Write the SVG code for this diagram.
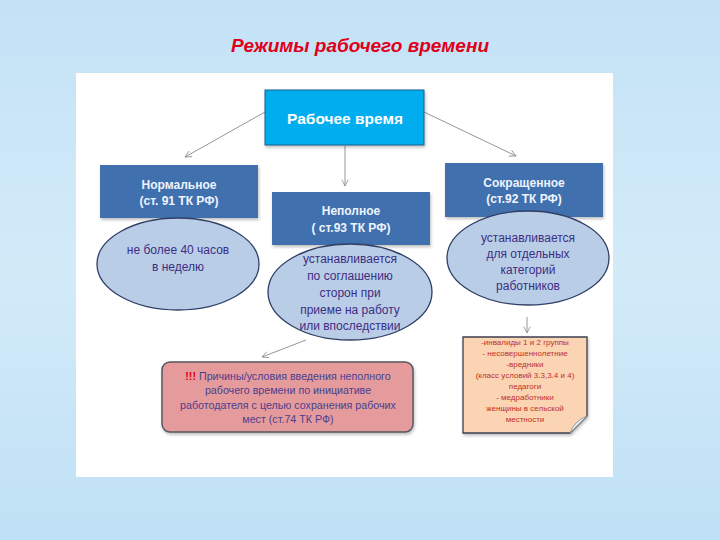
<svg xmlns="http://www.w3.org/2000/svg" width="720" height="540" viewBox="0 0 720 540">
<defs>
<linearGradient id="bg" x1="0" y1="0" x2="0" y2="1">
<stop offset="0" stop-color="#c3e2f6"/>
<stop offset="0.5" stop-color="#d3ebf9"/>
<stop offset="1" stop-color="#bfe0f5"/>
</linearGradient>
<marker id="arr" viewBox="0 0 10 10" refX="9" refY="5" markerWidth="8" markerHeight="8" orient="auto" markerUnits="userSpaceOnUse">
<path d="M1,1 L9,5 L1,9" fill="none" stroke="#8a8a8a" stroke-width="1"/>
</marker>
<filter id="sh" x="-10%" y="-10%" width="120%" height="130%">
<feDropShadow dx="1" dy="2" stdDeviation="1.5" flood-color="#000" flood-opacity="0.25"/>
</filter>
</defs>
<style>
.hdr{fill:#4170ad;filter:url(#sh)}
.hdrt{font-family:"Liberation Sans",Arial,sans-serif;font-size:12px;font-weight:bold;fill:#eef4ff;text-anchor:middle}
.ell{fill:#b9cde6;stroke:#2f3f66;stroke-width:1.3}
.et{font-family:"Liberation Sans",Arial,sans-serif;font-size:12px;fill:#3d2d85;text-anchor:middle}
.con{stroke:#8a8a8a;stroke-width:0.9;fill:none;marker-end:url(#arr)}
.rt{font-family:"Liberation Sans",Arial,sans-serif;font-size:10.7px;fill:#4a3f8f;text-anchor:middle}
.nt{font-family:"Liberation Sans",Arial,sans-serif;font-size:8px;fill:#c0302a;text-anchor:middle}
</style>
<rect x="0" y="0" width="720" height="540" fill="url(#bg)"/>
<rect x="76" y="73" width="537" height="404" fill="#ffffff"/>
<text x="360" y="52" font-family="Liberation Sans,Arial,sans-serif" font-size="19" font-style="italic" font-weight="bold" fill="#e0001b" text-anchor="middle">Режимы рабочего времени</text>

<g id="connectors">
<line class="con" x1="265" y1="112" x2="185" y2="157"/>
<line class="con" x1="424" y1="112" x2="516" y2="156"/>
<line class="con" x1="345" y1="146" x2="345" y2="186"/>
<line class="con" x1="306" y1="340" x2="262" y2="357"/>
<line class="con" x1="527" y1="317" x2="527" y2="333"/>
</g>

<g id="root">
<rect x="265" y="90" width="159" height="55" fill="#00aeef" stroke="#1d5e8c" stroke-width="1" filter="url(#sh)"/>
<text x="345" y="124" font-family="Liberation Sans,Arial,sans-serif" font-size="15.5" font-weight="bold" fill="#ffffff" text-anchor="middle">Рабочее время</text>
</g>

<g id="normal">
<rect class="hdr" x="100" y="165" width="158" height="53"/>
<text class="hdrt" x="179" y="189">Нормальное</text>
<text class="hdrt" x="179" y="205">(ст. 91 ТК РФ)</text>
</g>
<g id="normal-desc">
<ellipse class="ell" cx="178" cy="264" rx="81" ry="46"/>
<text class="et" x="178" y="254">не более 40 часов</text>
<text class="et" x="178" y="271">в неделю</text>
</g>

<g id="partial">
<rect class="hdr" x="272" y="192" width="158" height="53"/>
<text class="hdrt" x="351" y="215">Неполное</text>
<text class="hdrt" x="351" y="232">( ст.93 ТК РФ)</text>
</g>
<g id="partial-desc">
<ellipse class="ell" cx="350" cy="292" rx="82" ry="48"/>
<text class="et" x="350" y="263">устанавливается</text>
<text class="et" x="350" y="280">по соглашению</text>
<text class="et" x="350" y="297">сторон при</text>
<text class="et" x="350" y="314">приеме на работу</text>
<text class="et" x="350" y="330">или впоследствии</text>
</g>

<g id="reduced">
<rect class="hdr" x="445" y="163" width="158" height="54"/>
<text class="hdrt" x="524" y="187">Сокращенное</text>
<text class="hdrt" x="524" y="203">(ст.92 ТК РФ)</text>
</g>
<g id="reduced-desc">
<ellipse class="ell" cx="528" cy="258" rx="81" ry="47"/>
<text class="et" x="528" y="242">устанавливается</text>
<text class="et" x="528" y="258">для отдельных</text>
<text class="et" x="528" y="274">категорий</text>
<text class="et" x="528" y="290">работников</text>
</g>

<g id="reasons">
<rect x="162" y="362" width="251" height="70" rx="8" ry="8" fill="#e59b9b" stroke="#555560" stroke-width="1.5" filter="url(#sh)"/>
<text class="rt" x="288" y="380"><tspan fill="#e0001b" font-weight="bold">!!! </tspan>Причины/условия введения неполного</text>
<text class="rt" x="288" y="394">рабочего времени по инициативе</text>
<text class="rt" x="288" y="409">работодателя с целью сохранения рабочих</text>
<text class="rt" x="288" y="423">мест (ст.74 ТК РФ)</text>
</g>

<g id="categories">
<path d="M463,337 H587 V416 L570,433 H463 Z" fill="#fbd4b4" stroke="#3c4050" stroke-width="1.3" filter="url(#sh)"/>
<path d="M587,416 L570,433 Q574,421 587,416 Z" fill="#e4e6ea" stroke="#8a8d95" stroke-width="0.8"/>
<text class="nt" x="525" y="345">-инвалиды 1 и 2 группы</text>
<text class="nt" x="525" y="356">- несовершеннолетние</text>
<text class="nt" x="525" y="367">-вредники</text>
<text class="nt" x="525" y="378">(класс условий 3.3,3.4 и 4)</text>
<text class="nt" x="525" y="389">педагоги</text>
<text class="nt" x="525" y="400">-    медработники</text>
<text class="nt" x="525" y="411">женщины в сельской</text>
<text class="nt" x="525" y="422">местности</text>
</g>
</svg>
